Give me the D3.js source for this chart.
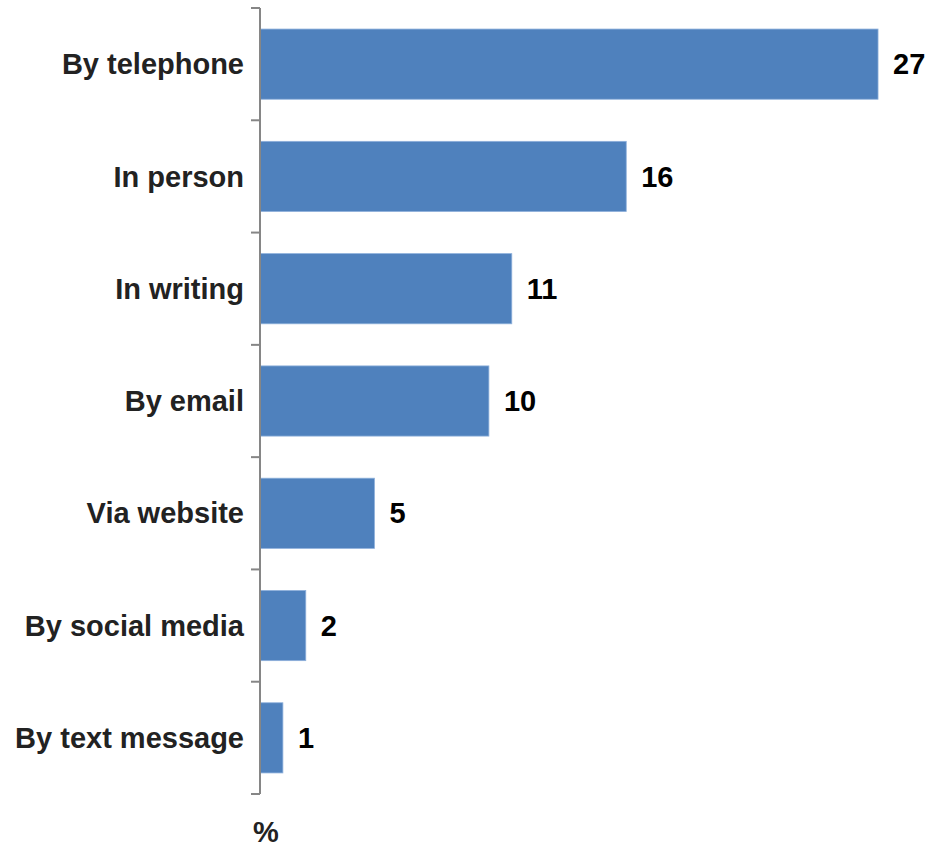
<!DOCTYPE html>
<html>
<head>
<meta charset="utf-8">
<script src="https://cdn.jsdelivr.net/npm/d3@7.9.0/dist/d3.min.js"></script>
<style>
  body { margin: 0; background: #fff; }
  svg text { font-family: "Liberation Sans", Arial, sans-serif; font-weight: bold; }
</style>
</head>
<body>
<svg id="chart" width="928" height="849"></svg>
<script>
// Chart data
const categories = ['By telephone', 'In person', 'In writing', 'By email', 'Via website', 'By social media', 'By text message'];
const values = [27, 16, 11, 10, 5, 2, 1];
const unitLabel = '%';

const svg = d3.select('#chart');
const axisX = 260, axisTop = 8, axisBottom = 794;
const fontSize = 29;

// Scales
const x = d3.scaleLinear().domain([0, 30]).range([axisX, axisX + 30 * 22.89]);
const y = d3.scaleBand().domain(categories).range([axisTop, axisBottom]).paddingInner(0.375).paddingOuter(0.1875);

// Bars
svg.selectAll('rect.bar')
  .data(categories)
  .join('rect')
  .attr('class', 'bar')
  .attr('x', x(0))
  .attr('y', d => y(d))
  .attr('width', (d, i) => x(values[i]) - x(0))
  .attr('height', y.bandwidth())
  .attr('fill', '#4F81BD')
  .attr('stroke', '#8EB0DB')
  .attr('stroke-width', 0.8);

// Value labels
svg.selectAll('text.val')
  .data(categories)
  .join('text')
  .attr('class', 'val')
  .attr('x', (d, i) => x(values[i]) + 15)
  .attr('y', d => y(d) + y.bandwidth() / 2)
  .attr('dy', '0.35em')
  .attr('font-size', fontSize)
  .attr('fill', '#000')
  .text((d, i) => values[i]);

// Category axis: line plus ticks at band edges
const edges = d3.range(categories.length + 1).map(i => axisTop + i * (axisBottom - axisTop) / categories.length);
svg.append('line')
  .attr('x1', axisX).attr('x2', axisX)
  .attr('y1', axisTop).attr('y2', axisBottom)
  .attr('stroke', '#868686').attr('stroke-width', 2);
svg.selectAll('line.tick')
  .data(edges)
  .join('line')
  .attr('class', 'tick')
  .attr('x1', axisX - 9).attr('x2', axisX)
  .attr('y1', d => d).attr('y2', d => d)
  .attr('stroke', '#868686').attr('stroke-width', 2);

// Category labels
svg.selectAll('text.cat')
  .data(categories)
  .join('text')
  .attr('class', 'cat')
  .attr('x', axisX - 16)
  .attr('y', d => y(d) + y.bandwidth() / 2)
  .attr('dy', '0.35em')
  .attr('text-anchor', 'end')
  .attr('font-size', fontSize)
  .attr('fill', '#222')
  .text(d => d);

// Unit label
svg.append('text')
  .attr('x', 266)
  .attr('y', 842)
  .attr('text-anchor', 'middle')
  .attr('font-size', fontSize)
  .attr('fill', '#222')
  .text(unitLabel);
</script>
</body>
</html>
